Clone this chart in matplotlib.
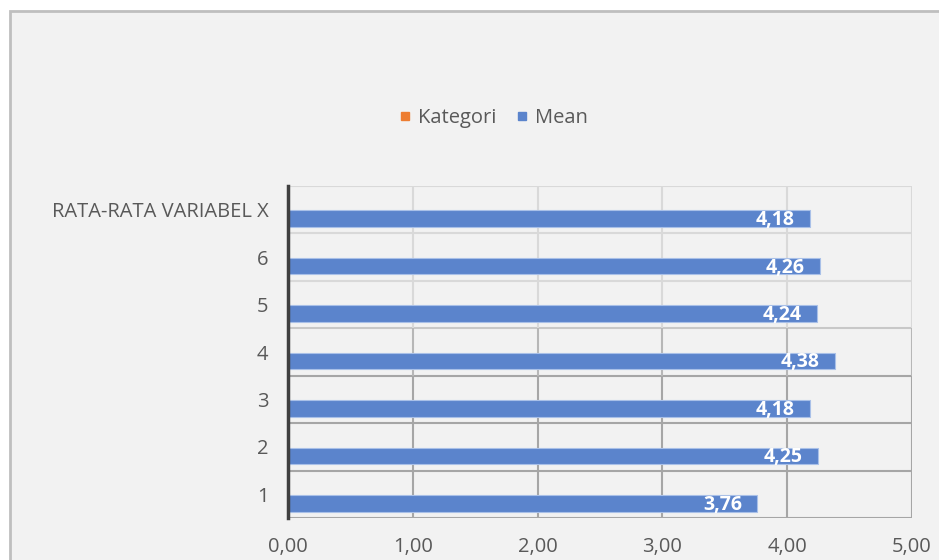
import matplotlib
matplotlib.use("Agg")
import matplotlib.pyplot as plt
from matplotlib.patches import Rectangle
from matplotlib.lines import Line2D
from matplotlib.colors import to_rgb

# data
categories = ["1", "2", "3", "4", "5", "6", "RATA-RATA VARIABEL X"]
mean_values = [3.76, 4.25, 4.18, 4.38, 4.24, 4.26, 4.18]
kategori_values = [0, 0, 0, 0, 0, 0, 0]
x_ticks = [0, 1, 2, 3, 4, 5]

plt.rcParams["font.family"] = ["Open Sans", "DejaVu Sans"]

text_col = "#595959"
bar_col = "#5B84CC"
orange = "#ED7D31"
fs = 14.5

W, H = 939, 560
fig = plt.figure(figsize=(W / 100, H / 100), dpi=100, facecolor="white")

# chart area (border runs off the right and bottom of the picture)
fig.patches.append(Rectangle((10 / W, -0.1), 1.2, 1 - 11 / H + 0.1,
                             transform=fig.transFigure, facecolor="#F2F2F2",
                             edgecolor="#BFBFBF", linewidth=2, zorder=-5))

ax = fig.add_axes([288 / W, 42 / H, (912 - 288) / W, (518 - 186) / H])
ax.set_facecolor("none")

ypos = list(range(len(categories)))
n = len(categories)
off = -0.19
h = 0.35
ax.barh([y + 0.19 for y in ypos], kategori_values, height=h, color=orange)
ax.barh([y + off for y in ypos], mean_values, height=h, color=bar_col,
        edgecolor="#A9C0E8", linewidth=0.8, zorder=3)

for y, v in zip(ypos, mean_values):
    ax.annotate(f"{v:.2f}".replace(".", ","), (v, y + off), xytext=(-11, -1),
                textcoords="offset points", ha="right", va="center",
                color="white", fontweight="bold", fontsize=14, zorder=4)

ax.set_xlim(0, 5)
ax.set_ylim(-0.5, n - 0.5)
ax.set_xticks(x_ticks)
ax.set_xticklabels([f"{t:.2f}".replace(".", ",") for t in x_ticks])
ax.set_yticks(ypos)
ax.set_yticklabels(categories)


# gridlines: light at the top, darker towards the bottom (as in the screenshot)
light = to_rgb("#D9D9D9")
dark = to_rgb("#A6A6A6")


def grid_color(y):
    f = min(max((4.0 - y) / 1.5, 0), 1)
    return tuple(light[i] + (dark[i] - light[i]) * f for i in range(3))


for b in range(-1, n):
    ax.axhline(b + 0.5, color=grid_color(b + 0.5), linewidth=1.5, zorder=1)
for t in x_ticks[1:]:
    for b in range(n):
        ax.plot([t, t], [b - 0.5, b + 0.5], color=grid_color(b),
                linewidth=1.5, zorder=1, solid_capstyle="butt")

for s in ["top", "right", "bottom"]:
    ax.spines[s].set_visible(False)
ax.spines["left"].set_color("#404040")
ax.spines["left"].set_linewidth(2.5)
ax.spines["left"].set_zorder(5)

ax.tick_params(axis="both", length=0, labelsize=fs, colors=text_col)
ax.tick_params(axis="x", pad=14)
ax.tick_params(axis="y", pad=14)

handles = [Line2D([], [], marker="s", linestyle="none", markersize=6,
                  color=orange, label="Kategori"),
           Line2D([], [], marker="s", linestyle="none", markersize=6,
                  color=bar_col, label="Mean")]
fig.legend(handles=handles, loc="center", bbox_to_anchor=(494 / W, 1 - 118 / H),
           ncol=2, frameon=False, fontsize=fs, handlelength=0.5,
           handletextpad=0.4, columnspacing=1.0, labelcolor=text_col)

fig.savefig("out.png", dpi=100, facecolor="white")
